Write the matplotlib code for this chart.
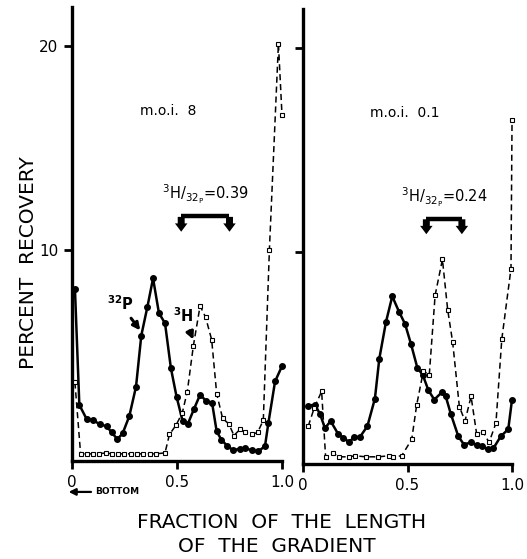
import matplotlib
matplotlib.use('Agg')
import matplotlib.pyplot as plt

plt.rcParams['font.family'] = ['DejaVu Sans']
plt.rcParams['mathtext.fontset'] = 'dejavusans'

# m.o.i. 8 (left panel)
p32_x_8 = [0.014, 0.035, 0.07, 0.10, 0.133, 0.165, 0.189, 0.216, 0.241, 0.273, 0.305, 0.33,
           0.359, 0.386, 0.414, 0.443, 0.471, 0.498, 0.527, 0.551, 0.581, 0.61, 0.638, 0.667,
           0.689, 0.711, 0.74, 0.768, 0.8, 0.825, 0.856, 0.887, 0.919, 0.935, 0.967, 1.0]
p32_y_8 = [8.1, 2.4, 1.7, 1.65, 1.45, 1.35, 1.05, 0.72, 1.0, 1.85, 3.3, 5.8,
           7.2, 8.6, 6.9, 6.4, 4.2, 2.8, 1.6, 1.45, 2.2, 2.9, 2.6, 2.5,
           1.1, 0.7, 0.38, 0.18, 0.25, 0.27, 0.18, 0.12, 0.38, 1.5, 3.55, 4.3]
h3_x_8 = [0.014, 0.041, 0.07, 0.10, 0.13, 0.16, 0.19, 0.22, 0.25, 0.28, 0.31, 0.34, 0.37, 0.40,
          0.443, 0.464, 0.495, 0.525, 0.549, 0.578, 0.61, 0.636, 0.665, 0.689, 0.717, 0.748,
          0.771, 0.8, 0.825, 0.856, 0.884, 0.911, 0.94, 0.983, 1.0]
h3_y_8 = [3.5, 0.0, 0.0, 0.0, 0.0, 0.05, 0.0, 0.0, 0.0, 0.0, 0.0, 0.0, 0.0, 0.0,
          0.05, 0.95, 1.4, 2.0, 3.05, 5.3, 7.25, 6.7, 5.6, 2.95, 1.75, 1.45,
          0.9, 1.2, 1.05, 0.95, 1.05, 1.65, 10.0, 20.1, 16.6]

# m.o.i. 0.1 (right panel)
p32_x_01 = [0.025, 0.057, 0.081, 0.105, 0.132, 0.169, 0.193, 0.22, 0.244, 0.273, 0.308, 0.344,
            0.365, 0.397, 0.427, 0.459, 0.488, 0.517, 0.547, 0.573, 0.6, 0.628, 0.664, 0.683,
            0.707, 0.743, 0.77, 0.802, 0.831, 0.855, 0.884, 0.911, 0.946, 0.982, 1.0]
p32_y_01 = [2.5, 2.55, 2.1, 1.4, 1.75, 1.1, 0.93, 0.72, 0.95, 0.98, 1.5, 2.85,
            4.8, 6.6, 7.85, 7.1, 6.5, 5.5, 4.35, 4.0, 3.25, 2.8, 3.15, 2.95,
            2.1, 1.0, 0.6, 0.7, 0.57, 0.52, 0.36, 0.42, 1.0, 1.35, 2.8]
h3_x_01 = [0.025, 0.054, 0.089, 0.108, 0.142, 0.17, 0.22, 0.25, 0.30, 0.36, 0.41, 0.43, 0.472,
           0.52, 0.544, 0.576, 0.604, 0.632, 0.667, 0.692, 0.716, 0.748, 0.775, 0.804, 0.831,
           0.863, 0.89, 0.923, 0.951, 0.995, 1.0]
h3_y_01 = [1.5, 2.4, 3.2, 0.0, 0.2, 0.0, 0.0, 0.05, 0.0, 0.0, 0.05, 0.0, 0.05,
           0.85, 2.55, 4.2, 4.0, 7.9, 9.65, 7.2, 5.6, 2.45, 1.75, 2.95, 1.1,
           1.2, 0.7, 1.65, 5.75, 9.2, 16.45]

fig = plt.figure(figsize=(5.27, 5.59), dpi=100)
ax1 = fig.add_axes([0.1366, 0.1753, 0.3985, 0.8122])
ax2 = fig.add_axes([0.575, 0.1700, 0.3966, 0.8140])

panels = [
    (ax1, p32_x_8, p32_y_8, h3_x_8, h3_y_8, 'm.o.i.  8', 0.457, '0.39', 0.52, 0.75),
    (ax2, p32_x_01, p32_y_01, h3_x_01, h3_y_01, 'm.o.i.  0.1', 0.488, '0.24', 0.59, 0.76),
]

for ax, px, py, hx, hy, moi, moi_x, ratio, bx0, bx1 in panels:
    ax.plot(px, py, '-', color='black', lw=1.8, marker='o', ms=4, clip_on=False, zorder=3)
    ax.plot(hx, hy, '--', color='black', lw=1.1, dashes=(4, 2.5), marker='s', ms=3.5,
            mfc='white', mec='black', mew=0.8, clip_on=False, zorder=4)
    ax.set_xlim(0, 1.0)
    ax.set_ylim(-0.35, 21.9)
    for s in ['top', 'right']:
        ax.spines[s].set_visible(False)
    for s in ['left', 'bottom']:
        ax.spines[s].set_linewidth(2.4)
    ax.set_xticks([0, 0.5, 1.0])
    ax.set_xticklabels(['0', '0.5', '1.0'])
    ax.set_yticks([10, 20])
    ax.tick_params(direction='out', length=6, width=2, labelsize=11, pad=4)
    ax.text(moi_x, 16.8, moi, ha='center', va='center', fontsize=10)
    ax.text((bx0 + bx1) / 2, 12.7,
            r'$\mathregular{^{3}H/_{32_{P}}}$=' + ratio,
            ha='center', va='center', fontsize=10.5)
    # bracket with two fat arrows
    ax.plot([bx0, bx1], [11.65, 11.65], color='black', lw=3.2, solid_capstyle='butt')
    for bx in [bx0, bx1]:
        ax.annotate('', xy=(bx, 10.75), xytext=(bx, 11.75),
                    arrowprops=dict(arrowstyle='simple,head_width=0.9,head_length=0.6,tail_width=0.5',
                                    color='black', lw=0))

ax1.set_yticklabels(['10', '20'])
ax2.set_yticklabels([])

ax1.annotate(r'$\mathbf{^{32}P}$', xy=(0.325, 6.05), xytext=(0.23, 7.35),
             fontsize=10.5, ha='center', va='center',
             arrowprops=dict(arrowstyle='-|>', color='black', lw=2.2, shrinkA=2, shrinkB=0))
ax1.annotate(r'$\mathbf{^{3}H}$', xy=(0.578, 5.6), xytext=(0.53, 6.75),
             fontsize=10.5, ha='center', va='center',
             arrowprops=dict(arrowstyle='-|>', color='black', lw=2.2, shrinkA=2, shrinkB=0))

fig.text(0.055, 0.53, 'PERCENT  RECOVERY', rotation=90, ha='center', va='center',
         fontsize=14.5)
ax1.annotate('', xy=(0.125, 0.12), xytext=(0.178, 0.12), xycoords='figure fraction',
             textcoords='figure fraction', annotation_clip=False,
             arrowprops=dict(arrowstyle='-|>', color='black', lw=1.6))
fig.text(0.18, 0.12, 'BOTTOM', ha='left', va='center', fontsize=6.5, fontweight='bold')
fig.text(0.535, 0.066, 'FRACTION  OF  THE  LENGTH', ha='center', va='center',
         fontsize=14.5)
fig.text(0.525, 0.022, 'OF  THE  GRADIENT', ha='center', va='center',
         fontsize=14.5)

fig.savefig('out.png', dpi=100)
